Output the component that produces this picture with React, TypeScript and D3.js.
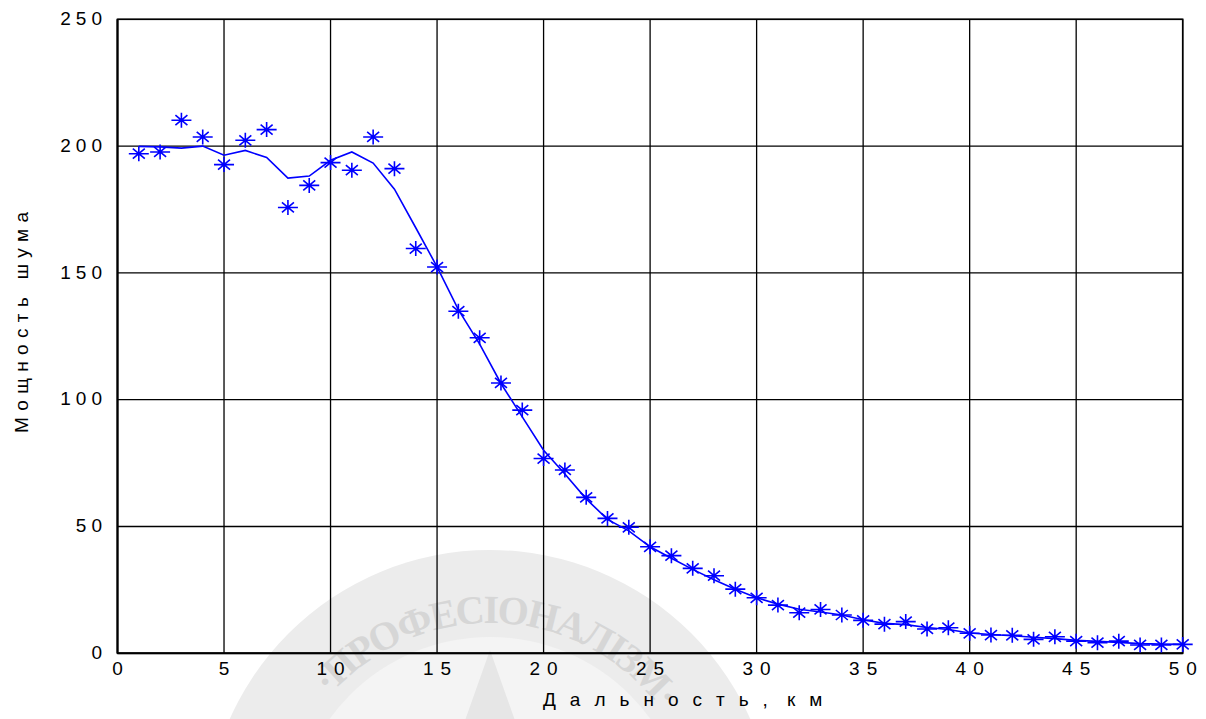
import React from "react";
import * as d3 from "d3";

const W = 1206;
const H = 719;

const distances: number[] = Array.from({ length: 50 }, (_, i) => i + 1);
const measured: number[] = [
  197.0, 197.7, 210.2, 203.6, 192.7, 202.3, 206.5, 175.8, 184.5, 193.5,
  190.5, 203.6, 191.1, 159.6, 152.3, 134.9, 124.4, 106.6, 95.9, 76.8,
  72.3, 61.5, 53.2, 49.7, 42.0, 38.5, 33.5, 30.6, 25.3, 21.9,
  19.0, 16.0, 17.3, 15.1, 13.0, 11.5, 12.5, 9.6, 10.1, 7.9,
  7.2, 7.1, 5.5, 6.5, 4.8, 4.2, 4.8, 3.3, 3.3, 3.5,
];
const smoothed: number[] = [
  199.9, 199.7, 199.2, 200.0, 196.4, 198.3, 195.5, 187.4, 188.2, 194.4,
  197.7, 193.3, 183.0, 167.8, 152.4, 135.5, 121.9, 106.4, 93.2, 80.1,
  70.7, 60.9, 52.8, 48.3, 42.0, 37.5, 33.1, 29.0, 25.3, 21.9,
  19.4, 17.4, 16.3, 15.1, 13.2, 11.8, 11.3, 10.2, 9.4, 8.0,
  7.4, 6.9, 6.3, 5.8, 5.1, 4.7, 4.3, 3.8, 3.6, 3.5,
];
const xTicks: number[] = [0, 5, 10, 15, 20, 25, 30, 35, 40, 45, 50];
const yTicks: number[] = [0, 50, 100, 150, 200, 250];
const xTitleWords: string[] = ["Дальность,", "км"];
const yTitle = "Мощность шума";
const watermarkText = "·ПРОФЕСІОНАЛІЗМ·";

const left = 117.5;
const right = 1182.7;
const top = 19.3;
const bottom = 653.3;

export default function App() {
  const x = d3.scaleLinear().domain([0, 50]).range([left, right]);
  const y = d3.scaleLinear().domain([0, 250]).range([bottom, top]);
  const line = d3
    .line<number>()
    .x((_, i) => x(distances[i]))
    .y((d) => y(d));
  const starPath = "M-10,0H10M0,-7.5V7.5M-6,-5L6,5M-6,5L6,-5";

  // watermark geometry
  const cx = 490;
  const cy = 835;
  const rText = 212;
  const a0 = (-148 * Math.PI) / 180;
  const a1 = (-27 * Math.PI) / 180;
  const arcPath = `M${cx + rText * Math.cos(a0)},${cy + rText * Math.sin(a0)} A${rText},${rText} 0 0 1 ${cx + rText * Math.cos(a1)},${cy + rText * Math.sin(a1)}`;
  const starPts: string = d3
    .range(10)
    .map((i) => {
      const r = i % 2 === 0 ? 185 : 75;
      const a = -Math.PI / 2 + (i * Math.PI) / 5;
      return `${cx + r * Math.cos(a)},${cy + r * Math.sin(a)}`;
    })
    .join(" ");

  const font = "'Liberation Sans', Arial, sans-serif";

  return (
    <svg
      width={W}
      height={H}
      style={{ position: "absolute", left: 0, top: 0, background: "#fff" }}
    >
      <defs>
        <path id="wmArc" d={arcPath} />
        <clipPath id="pageClip">
          <rect x={0} y={0} width={W} height={H} />
        </clipPath>
      </defs>
      {/* watermark */}
      <g clipPath="url(#pageClip)">
        <circle cx={cx} cy={cy} r={285} fill="#ececec" />
        <circle cx={cx} cy={cy} r={198} fill="#f4f4f4" />
        <polygon points={starPts} fill="#e6e6e6" />
        <text
          fontFamily="'Liberation Serif', 'DejaVu Serif', serif"
          fontSize={40}
          fontWeight="bold"
          fill="#d6d6d6"
          textAnchor="middle"
        >
          <textPath href="#wmArc" startOffset="50%" textLength={380} lengthAdjust="spacing">
            {watermarkText}
          </textPath>
        </text>
      </g>

      {/* grid */}
      <g stroke="#000" strokeWidth={1.3}>
        {xTicks.map((t) => (
          <line key={"gx" + t} x1={x(t)} x2={x(t)} y1={top} y2={bottom} />
        ))}
        {yTicks.map((t) => (
          <line key={"gy" + t} x1={left} x2={right} y1={y(t)} y2={y(t)} />
        ))}
      </g>
      <rect
        x={left}
        y={top}
        width={right - left}
        height={bottom - top}
        fill="none"
        stroke="#000"
        strokeWidth={1.6}
      />
      <line x1={left} x2={right} y1={bottom} y2={bottom} stroke="#000" strokeWidth={2} />
      <line x1={left} x2={left} y1={top} y2={bottom} stroke="#000" strokeWidth={2} />

      {/* data */}
      <path d={line(smoothed) || ""} fill="none" stroke="#0000ff" strokeWidth={1.6} />
      <g stroke="#0000ff" strokeWidth={1.6} fill="none">
        {measured.map((v, i) => (
          <path
            key={"s" + i}
            d={starPath}
            transform={`translate(${x(distances[i])},${y(v)})`}
          />
        ))}
      </g>

      {/* tick labels */}
      <g fontFamily={font} fontSize={19} fill="#000">
        {xTicks.map((t) => (
          <text
            key={"xl" + t}
            x={x(t) + 3.5}
            y={668}
            dy="0.35em"
            textAnchor="middle"
            letterSpacing={7}
          >
            {String(t)}
          </text>
        ))}
        {yTicks.map((t) => (
          <text
            key={"yl" + t}
            x={107}
            y={y(t) - 1}
            dy="0.35em"
            textAnchor="end"
            letterSpacing={5}
          >
            {String(t)}
          </text>
        ))}
      </g>

      {/* axis titles */}
      <text
        x={543}
        y={706}
        fontFamily={font}
        fontSize={19}
        letterSpacing={14}
        fill="#000"
      >
        <tspan>{xTitleWords[0] + " "}</tspan>
        <tspan x={787}>{xTitleWords[1]}</tspan>
      </text>
      <text
        transform="translate(28,433) rotate(-90)"
        x={0}
        y={0}
        fontFamily={font}
        fontSize={19}
        textLength={221}
        lengthAdjust="spacing"
        fill="#000"
      >
        {yTitle}
      </text>
    </svg>
  );
}
